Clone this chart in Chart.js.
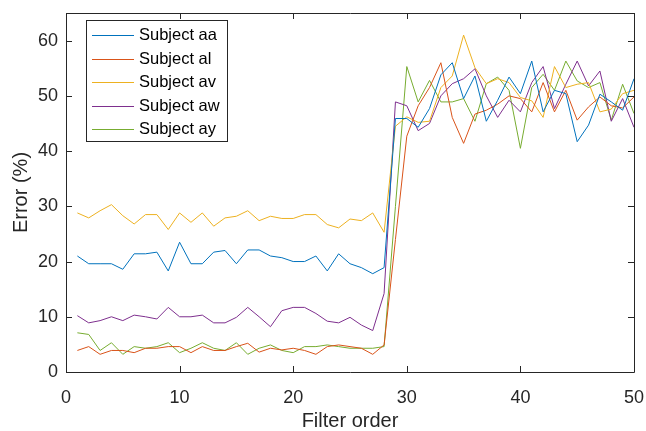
<!DOCTYPE html>
<html>
<head>
<meta charset="utf-8">
<script src="https://cdn.jsdelivr.net/npm/chart.js@4.4.1/dist/chart.umd.min.js"></script>
<style>
  html, body { margin: 0; padding: 0; background: #fff; }
  #wrap { width: 646px; height: 431px; }
</style>
</head>
<body>
<div id="wrap"><canvas id="chart" width="646" height="431"></canvas></div>
<script>
// ── Data ─────────────────────────────────────────────────────────────────────

const FILTER_ORDER = [
   1,  2,  3,  4,  5,  6,  7,  8,  9, 10,
  11, 12, 13, 14, 15, 16, 17, 18, 19, 20,
  21, 22, 23, 24, 25, 26, 27, 28, 29, 30,
  31, 32, 33, 34, 35, 36, 37, 38, 39, 40,
  41, 42, 43, 44, 45, 46, 47, 48, 49, 50,
];

const SUBJECT_AA = [
  21.0, 19.6, 19.6, 19.6, 18.6, 21.4, 21.4, 21.7, 18.3, 23.5,
  19.6, 19.6, 21.7, 22.0, 19.6, 22.1, 22.1, 21.0, 20.7, 20.0,
  20.0, 21.0, 18.3, 21.4, 19.6, 18.9, 17.8, 18.9, 45.9, 45.9,
  44.3, 47.7, 53.8, 56.0, 49.5, 53.6, 45.4, 49.2, 53.4, 50.4,
  56.3, 47.1, 51.0, 50.4, 41.7, 44.7, 50.3, 48.9, 47.4, 53.1,
];

const SUBJECT_AL = [
   3.9,  4.6,  3.2,  3.9,  3.9,  3.5,  4.3,  4.3,  4.6,  4.6,
   3.5,  4.6,  3.9,  3.9,  4.6,  5.2,  3.6,  4.3,  4.0,  4.3,
   3.9,  3.2,  4.6,  4.9,  4.6,  4.3,  3.2,  4.9, 24.0, 42.7,
  48.2, 51.5, 56.0, 46.1, 41.4, 46.7, 47.4, 48.5, 50.0, 49.5,
  47.1, 52.4, 47.1, 51.0, 45.6, 48.0, 49.8, 48.2, 47.8, 49.8,
];

const SUBJECT_AV = [
  28.8, 27.9, 29.2, 30.3, 28.3, 26.8, 28.5, 28.5, 25.8, 28.8,
  27.1, 28.8, 26.4, 27.9, 28.2, 29.2, 27.4, 28.2, 27.8, 27.8,
  28.5, 28.5, 26.7, 26.1, 27.7, 27.4, 28.8, 25.3, 44.5, 46.2,
  45.2, 45.4, 51.5, 53.6, 61.0, 55.1, 52.2, 53.1, 52.4, 49.7,
  49.1, 46.1, 55.3, 51.5, 52.1, 52.4, 47.1, 47.6, 50.4, 51.0,
];

const SUBJECT_AW = [
  10.2,  8.9,  9.3, 10.0,  9.3, 10.3, 10.0,  9.6, 11.7, 10.0,
  10.0, 10.3,  8.9,  8.9,  9.9, 11.7, 10.0,  8.2, 11.1, 11.7,
  11.7, 10.6,  9.2,  8.9,  9.9,  8.5,  7.5, 14.2, 48.9, 48.2,
  43.7, 45.0, 50.0, 52.2, 53.1, 54.9, 50.0, 46.1, 49.2, 47.1,
  52.4, 55.3, 47.7, 52.1, 56.3, 51.8, 54.5, 45.4, 49.5, 44.3,
];

const SUBJECT_AY = [
   7.1,  6.8,  3.9,  5.3,  3.2,  4.6,  4.3,  4.6,  5.3,  3.5,
   4.3,  5.3,  4.3,  3.9,  5.3,  3.2,  4.3,  4.9,  3.9,  3.5,
   4.6,  4.6,  4.9,  4.6,  4.3,  4.3,  4.3,  4.6, 30.0, 55.3,
  48.9, 52.8, 48.9, 48.9, 49.5, 45.4, 52.2, 53.4, 51.0, 40.5,
  51.5, 53.9, 51.0, 56.3, 52.7, 51.5, 52.4, 45.6, 52.1, 46.8,
];

const SERIES_LABELS = ['Subject aa', 'Subject al', 'Subject av', 'Subject aw', 'Subject ay'];
const SERIES_VALUES = [SUBJECT_AA, SUBJECT_AL, SUBJECT_AV, SUBJECT_AW, SUBJECT_AY];

const X_TICKS = [0, 10, 20, 30, 40, 50];
const Y_TICKS = [0, 10, 20, 30, 40, 50, 60];

// MATLAB default line colours
const COLORS = ['#0072BD', '#D95319', '#EDB120', '#7E2F8E', '#77AC30'];
const AXIS_COLOR = '#262626';
const FONT = '"Liberation Sans", Arial, Helvetica, sans-serif';

// ── Plugins: boxed axes with inward ticks, inset legend ─────────────────────

const matlabAxes = {
  id: 'matlabAxes',
  afterDatasetsDraw(chart) {
    const { ctx, chartArea: a, scales: { x, y } } = chart;
    const len = 6;
    ctx.save();
    ctx.strokeStyle = AXIS_COLOR;
    ctx.lineWidth = 1;
    ctx.beginPath();
    ctx.rect(Math.round(a.left) + 0.5, Math.round(a.top) + 0.5,
             Math.round(a.right - a.left), Math.round(a.bottom - a.top));
    X_TICKS.forEach(v => {
      const px = Math.round(x.getPixelForValue(v)) + 0.5;
      ctx.moveTo(px, a.bottom); ctx.lineTo(px, a.bottom - len);
      ctx.moveTo(px, a.top);    ctx.lineTo(px, a.top + len);
    });
    Y_TICKS.forEach(v => {
      const py = Math.round(y.getPixelForValue(v)) + 0.5;
      ctx.moveTo(a.left, py);  ctx.lineTo(a.left + len, py);
      ctx.moveTo(a.right, py); ctx.lineTo(a.right - len, py);
    });
    ctx.stroke();
    ctx.restore();
  },
};

const insetLegend = {
  id: 'insetLegend',
  afterDraw(chart) {
    const { ctx } = chart;
    const box = { left: 86.5, top: 20.5, width: 141, height: 121 };
    const rowTop = 35, rowStep = 23.5;
    ctx.save();
    ctx.fillStyle = '#fff';
    ctx.fillRect(box.left, box.top, box.width, box.height);
    ctx.strokeStyle = AXIS_COLOR;
    ctx.lineWidth = 1;
    ctx.strokeRect(box.left, box.top, box.width, box.height);
    ctx.font = '16.5px ' + FONT;
    ctx.textBaseline = 'middle';
    chart.data.datasets.forEach((ds, i) => {
      const cy = Math.round(rowTop + i * rowStep) + 0.5;
      ctx.strokeStyle = ds.borderColor;
      ctx.beginPath();
      ctx.moveTo(92, cy); ctx.lineTo(134, cy);
      ctx.stroke();
      ctx.fillStyle = '#000';
      ctx.fillText(ds.label, 139, cy);
    });
    ctx.restore();
  },
};

// ── Chart ────────────────────────────────────────────────────────────────────

new Chart(document.getElementById('chart'), {
  type: 'line',
  data: {
    labels: FILTER_ORDER,
    datasets: SERIES_VALUES.map((vals, i) => ({
      label: SERIES_LABELS[i],
      data: FILTER_ORDER.map((xv, j) => ({ x: xv, y: vals[j] })),
      borderColor: COLORS[i],
      backgroundColor: COLORS[i],
      borderWidth: 1,
      pointRadius: 0,
      tension: 0,
      fill: false,
    })),
  },
  options: {
    responsive: false,
    animation: false,
    layout: { padding: { top: 13, right: 12, left: 0, bottom: 0 } },
    plugins: {
      legend: { display: false },
      tooltip: { enabled: false },
    },
    scales: {
      x: {
        type: 'linear',
        min: 0, max: 50,
        afterBuildTicks: s => { s.ticks = X_TICKS.map(v => ({ value: v })); },
        afterFit: s => { s.height = 59; s.paddingLeft = 0; s.paddingRight = 0; },
        grid: { display: false, drawTicks: false },
        border: { display: false },
        ticks: { color: AXIS_COLOR, padding: 15, font: { family: FONT, size: 18 }, maxRotation: 0 },
        title: {
          display: true, text: 'Filter order', color: AXIS_COLOR,
          font: { family: FONT, size: 20, lineHeight: 1.0 }, padding: { top: 0, bottom: 0 },
        },
      },
      y: {
        type: 'linear',
        min: 0, max: 65,
        afterBuildTicks: s => { s.ticks = Y_TICKS.map(v => ({ value: v })); },
        afterFit: s => { s.width = 66; s.paddingTop = 0; s.paddingBottom = 0; },
        grid: { display: false, drawTicks: false },
        border: { display: false },
        ticks: { color: AXIS_COLOR, padding: 8, font: { family: FONT, size: 18 } },
        title: {
          display: true, text: 'Error (%)', color: AXIS_COLOR,
          font: { family: FONT, size: 20 }, padding: { top: 9, bottom: 0 },
        },
      },
    },
  },
  plugins: [matlabAxes, insetLegend],
});
</script>
</body>
</html>
